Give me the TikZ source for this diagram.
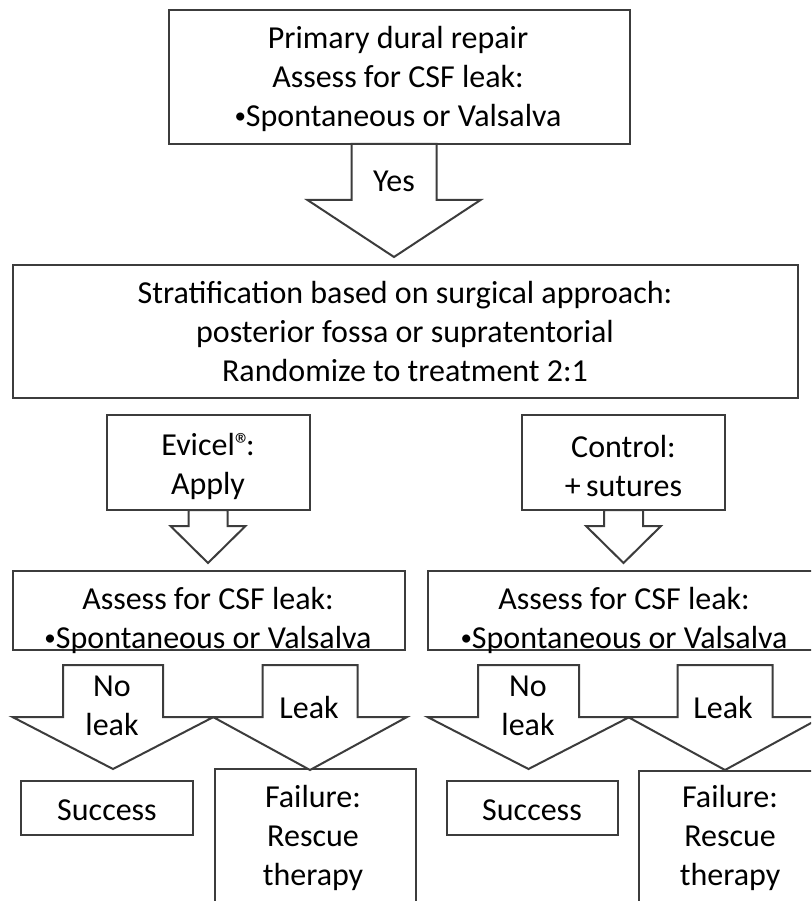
\documentclass[tikz,border=0pt]{standalone}
\usepackage{fontspec}
\setmainfont{Carlito}
\usetikzlibrary{calc}
\tikzset{
  box/.style={draw=linegray, line width=2pt, fill=white, rectangle, inner sep=0pt},
  txt/.style={align=center, inner sep=0pt, font=\fontsize{32}{39}\selectfont, text=black},
  arr/.style={draw=linegray, line width=2pt, fill=white, line join=miter},
}
\definecolor{linegray}{HTML}{3C3C3C}
\newcommand\smbul{\raisebox{3pt}{\fontsize{23}{23}\selectfont •}}
% block arrow: cx, ytop, ybase, ytip, shaft half width, head half width
\newcommand\blockarr[6]{%
  \draw[arr] (#1-#5,#2) -- (#1+#5,#2) -- (#1+#5,#3) -- (#1+#6,#3) -- (#1,#4)
    -- (#1-#6,#3) -- (#1-#5,#3) -- cycle;}
\begin{document}
\begin{tikzpicture}[x=1pt,y=-1pt]
\useasboundingbox (0,0) rectangle (811,901);
\clip (0,0) rectangle (811,901);

% top box
\node[box, minimum width=461pt, minimum height=134pt] (top) at (399.5,77) {};
\node[txt] (toptxt) at (398,79) {Primary dural repair\\Assess for CSF leak:\\\smbul Spontaneous or Valsalva};

% Yes arrow
\blockarr{394}{144}{200}{257}{42.5}{86.5}
\node[txt] (yes) at (394,181) {Yes};

% stratification box
\node[box, minimum width=785pt, minimum height=133pt] (strat) at (405.5,331.5) {};
\node[txt] (strattxt) at (405,332) {Stratification based on surgical approach:\\posterior fossa or supratentorial\\Randomize to treatment 2:1};

% Evicel / control boxes
\node[box, minimum width=203pt, minimum height=95pt] (evi) at (208.5,462.5) {};
\node[txt] (evitxt) at (208,466) {Evicel®\kern-5pt:\\Apply};
\node[box, minimum width=203pt, minimum height=95pt] (ctrl) at (623.5,462.5) {};
\node[txt] (ctrltxt) at (623.5,466) {Control:\\+\,sutures};

\blockarr{208}{510}{526}{563}{19.5}{37.5}
\blockarr{623.5}{510}{526}{563}{19.5}{37.5}

% assess boxes
\node[box, minimum width=392pt, minimum height=79pt] (assL) at (209,610.5) {};
\node[txt] (assLtxt) at (208,620) {Assess for CSF leak:\\\smbul Spontaneous or Valsalva};
\node[box, minimum width=392pt, minimum height=79pt] (assR) at (624,610.5) {};
\node[txt] (assRtxt) at (624,620) {Assess for CSF leak:\\\smbul Spontaneous or Valsalva};

% outcome boxes
\node[box, minimum width=172pt, minimum height=54pt] (succL) at (107,808) {};
\node[txt] (succLtxt) at (107,810) {Success};
\node[box, minimum width=201pt, minimum height=160pt] (failL) at (315.5,849) {};
\node[txt] (failLtxt) at (313,838) {Failure:\\Rescue\\therapy};
\node[box, minimum width=171pt, minimum height=54pt] (succR) at (532.5,808) {};
\node[txt] (succRtxt) at (532,810) {Success};
\node[box, minimum width=201pt, minimum height=160pt] (failR) at (739.5,851) {};
\node[txt] (failRtxt) at (730,838) {Failure:\\Rescue\\therapy};

% no leak / leak arrows
\blockarr{113}{665}{717}{769}{50}{100.5}
\blockarr{310}{665}{717}{770}{47.5}{97}
\blockarr{528.5}{665}{717}{769}{50.5}{101}
\blockarr{725}{665}{717}{770}{47.5}{97}
\node[txt] (nlL) at (112,706) {No\\leak};
\node[txt] (lkL) at (309,707) {Leak};
\node[txt] (nlR) at (528,706) {No\\leak};
\node[txt] (lkR) at (723,707) {Leak};
\end{tikzpicture}
\end{document}
